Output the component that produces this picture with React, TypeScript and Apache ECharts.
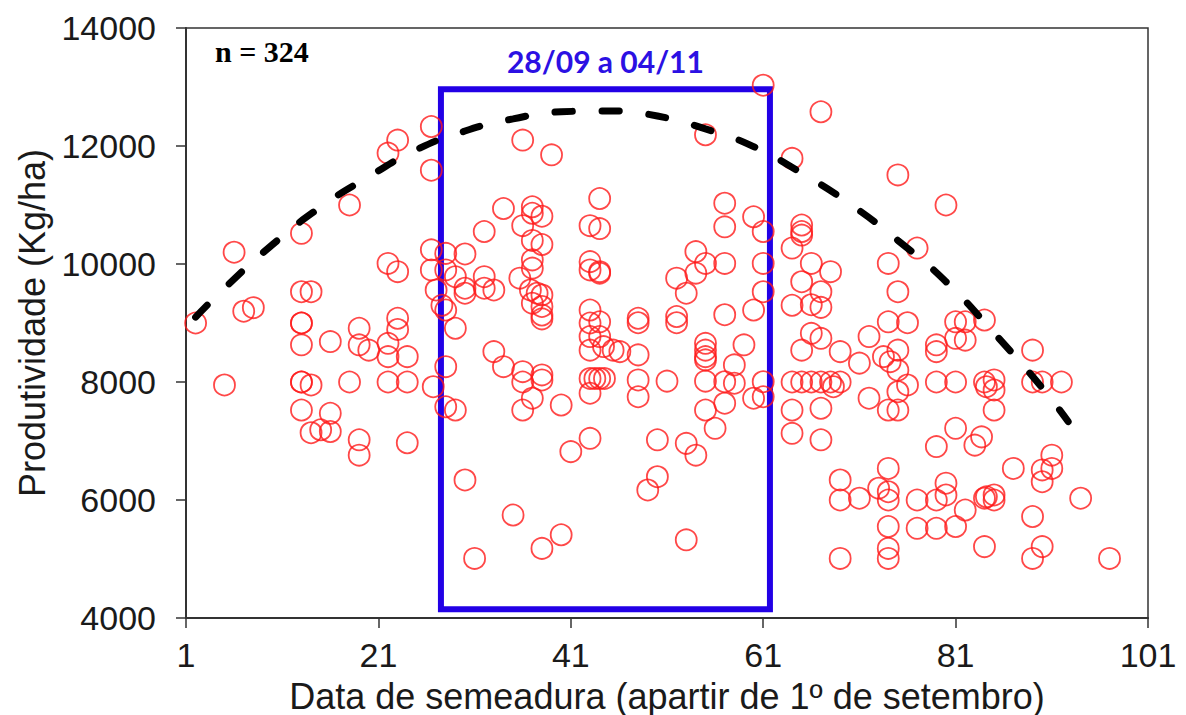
import React, { useEffect, useRef } from "react";
import * as echarts from "echarts";

// Sowing day (counted from 1 September) and yield (kg/ha), early sowings
const earlySowing: [number, number][] = [
  [2, 9000], [5, 7950], [6, 10200], [7, 9200], [8, 9260],
  [13, 10520], [13, 9530], [14, 9530], [13, 9000], [13, 9000], [13, 8630],
  [16, 8685], [19, 8910], [19, 8630], [20, 8540], [23, 9080], [23, 8890],
  [22, 8655], [22, 8430], [24, 8430], [13, 8000], [13, 8000], [14, 7950],
  [18, 8000], [22, 8000], [24, 8000], [26.7, 7920], [13, 7525], [16, 7470],
  [14, 7140], [15, 7190], [16, 7160], [19, 7020], [19, 6760], [24, 6970],
  [18, 11000], [22, 11880], [23, 12100], [26.5, 12330], [26.5, 11590],
  [22, 10010], [23, 9870], [26.5, 10240], [26.5, 9900],
];

// Sowings inside the recommended window
const windowSowing: [number, number][] = [
  [36, 12100], [39, 11850], [44, 11110], [34, 10940], [37, 10970], [37, 10860],
  [38, 10810], [36, 10650], [32, 10550], [43, 10650], [44, 10600], [37, 10400],
  [38, 10330], [28, 10180], [30, 10170], [37, 10070], [37, 9930], [43, 10040],
  [43, 9900], [44, 9845], [28, 9900], [29, 9785], [32, 9785], [30, 9590],
  [30, 9505], [32, 9590], [33, 9560], [35.7, 9760], [36.8, 9560], [37.5, 9505],
  [38, 9475], [27, 9560], [27.6, 9300], [37, 9335], [38, 9280], [38, 9135],
  [38, 9070], [28, 9220], [29, 8910], [33, 8515], [34, 8260], [36, 8175],
  [36, 8000], [38, 8120], [38, 8035], [37, 7725], [36, 7525], [40, 7610],
  [28, 8260], [28, 7580], [29, 7525], [30, 6340], [35, 5745], [31, 5010],
  [38, 5180], [40, 5410], [41, 6820], [43, 7045], [43, 9220], [43, 9000],
  [43, 8770], [43, 8540], [44, 9020], [44, 8770], [44.4, 8600], [43, 8060],
  [43.5, 8060], [44, 8060], [44.5, 8060], [43, 7810],
  [61, 13030], [55, 12190], [57, 11030], [57, 10630], [60, 10800], [61, 10550],
  [54, 10210], [55, 10010], [57, 10010], [52, 9760], [53, 9505], [54, 9845],
  [61, 10010], [61, 9530], [60, 9220], [57, 9140], [48, 9080], [52, 9110],
  [44, 9870], [48, 9005], [52, 9005], [45.4, 8540], [46.1, 8515], [48, 8460],
  [55, 8655], [55, 8540], [55, 8430], [55, 8375], [59, 8630], [58, 8290],
  [48, 8035], [48, 7750], [51, 8015], [55, 8015], [57, 8005], [58, 7980],
  [61, 8005], [60, 7725], [61, 7750], [57, 7640], [55, 7525], [56, 7215],
  [50, 7020], [53, 6960], [54, 6760], [50, 6395], [49, 6170], [53, 5325],
];

// Late sowings
const lateSowing: [number, number][] = [
  [64, 11790], [67, 12580], [75, 11510], [80, 11000], [77, 10270],
  [65, 10660], [65, 10550], [65, 10490], [64, 10270], [65, 9700],
  [64, 9300], [66, 9310], [67, 9265], [66, 10010], [68, 9870], [74, 10010],
  [67, 9530], [75, 9530], [74, 9020], [76, 9005], [81, 9020], [82, 9020],
  [84, 9050], [66, 8825], [67, 8740], [72, 8770], [65, 8540], [69, 8515],
  [75, 8540], [79, 8630], [79, 8515], [81, 8740], [82, 8710], [71, 8320],
  [73.5, 8430], [74.2, 8345], [75, 8200], [76, 7950], [75, 7835],
  [64, 8000], [65, 8000], [66, 8000], [67, 8000], [68, 8000], [69, 8000],
  [68.3, 7920], [79, 8000], [81, 8000], [84, 8000], [85, 8035], [84.2, 7920],
  [64, 7525], [67, 7555], [72, 7725], [74, 7525], [75, 7525], [64, 7130],
  [67, 7020], [79, 6905], [81, 7215], [83, 6930], [83.7, 7070], [69, 6340],
  [69, 6000], [71, 6030], [74, 6535], [73, 6200], [74, 6140], [74, 6000],
  [77, 6000], [79, 6000], [80, 6285], [80, 6085], [82, 5830], [84, 6030],
  [84.2, 6055], [74, 5550], [77, 5520], [79, 5520], [81, 5550], [74, 5180],
  [74, 5010], [69, 5010], [84, 5210], [89, 8540], [89, 8000], [90, 8000],
  [92, 8000], [85, 7865], [85, 7525], [87, 6535], [91, 6760], [91, 6535],
  [90, 6510], [90, 6310], [94, 6030], [85, 6085], [85, 6000], [89, 5720],
  [90, 5210], [89, 5010], [97, 5010],
];

// Fitted yield trend (dashed curve)
const trendDays = [2, 5, 10, 15, 20, 25, 30, 35, 40, 45, 50, 55, 60, 65, 70, 75, 80, 85, 90, 92.7];
const trendYield = [9100, 9590, 10330, 10966, 11480, 11940, 12254, 12460, 12580, 12595, 12508, 12290, 11990, 11540, 11020, 10400, 9700, 8830, 7900, 7330];

// Recommended sowing window
const windowStart = 27.5;
const windowEnd = 61.7;
const windowTop = 12960;
const windowBottom = 4150;
const windowLabel = "28/09 a 04/11";
const sampleLabel = "n = 324";

const xTitle = "Data de semeadura (apartir de 1º de setembro)";
const yTitle = "Produtividade (Kg/ha)";

const SANS = '"Liberation Sans", Arial, sans-serif';

export default function App() {
  const ref = useRef<HTMLDivElement>(null);

  useEffect(() => {
    const chart = echarts.init(ref.current!, null, { renderer: "svg" });
    const points = [...earlySowing, ...windowSowing, ...lateSowing];
    const trend = trendDays.map((d, i) => [d, trendYield[i]]);

    chart.setOption({
      animation: false,
      backgroundColor: "#ffffff",
      grid: {
        left: 186,
        right: 38,
        top: 28,
        bottom: 97,
        show: true,
        borderColor: "#333",
        borderWidth: 1.5,
        containLabel: false,
        outerBoundsMode: "none",
      },
      xAxis: {
        type: "value",
        min: 1,
        max: 101,
        interval: 20,
        splitLine: { show: false },
        axisLine: { onZero: false, lineStyle: { color: "#333", width: 2 } },
        axisTick: { show: true, inside: false, length: 10, lineStyle: { color: "#333", width: 1.5 } },
        axisLabel: {
          fontSize: 34,
          color: "#1a1a1a",
          margin: 20,
          fontFamily: SANS,
          formatter: (v: number) => String(v),
        },
        name: xTitle,
        nameLocation: "middle",
        nameGap: 60,
        nameTextStyle: { fontSize: 36, color: "#1a1a1a", fontFamily: SANS },
      },
      yAxis: {
        type: "value",
        min: 4000,
        max: 14000,
        interval: 2000,
        splitLine: { show: false },
        axisLine: { onZero: false, lineStyle: { color: "#333", width: 2 } },
        axisTick: { show: true, inside: false, length: 10, lineStyle: { color: "#333", width: 1.5 } },
        axisLabel: {
          fontSize: 34,
          color: "#1a1a1a",
          margin: 30,
          fontFamily: SANS,
          formatter: (v: number) => String(v),
        },
        name: yTitle,
        nameLocation: "middle",
        nameGap: 132,
        nameTextStyle: { fontSize: 36, color: "#1a1a1a", fontFamily: SANS },
      },
      graphic: [
        {
          type: "text",
          left: 215,
          top: 36,
          style: {
            text: sampleLabel,
            font: 'bold 30px "Liberation Serif", "Times New Roman", serif',
            fill: "#000",
          },
        },
      ],
      series: [
        {
          type: "scatter",
          data: points,
          symbol: "circle",
          symbolSize: 21,
          itemStyle: { color: "rgba(0,0,0,0)", borderColor: "#ff1a1a", borderWidth: 1.8 },
          z: 2,
          markArea: {
            silent: true,
            itemStyle: { color: "rgba(0,0,0,0)", borderColor: "#2200e6", borderWidth: 6 },
            label: {
              show: true,
              position: "top",
              distance: 10,
              formatter: windowLabel,
              color: "#2b10e3",
              fontSize: 30,
              fontWeight: "bold",
              fontFamily: "Lato, 'Open Sans', sans-serif",
            },
            data: [[{ coord: [windowStart, windowTop] }, { coord: [windowEnd, windowBottom] }]],
          },
        },
        {
          type: "line",
          data: trend,
          smooth: true,
          symbol: "none",
          z: 3,
          lineStyle: { color: "#000", width: 7, type: [17, 30], cap: "round" },
        },
      ],
    });

    return () => chart.dispose();
  }, []);

  return (
    <div
      ref={ref}
      style={{ position: "fixed", left: 0, top: 0, width: 1186, height: 715, background: "#fff" }}
    />
  );
}
